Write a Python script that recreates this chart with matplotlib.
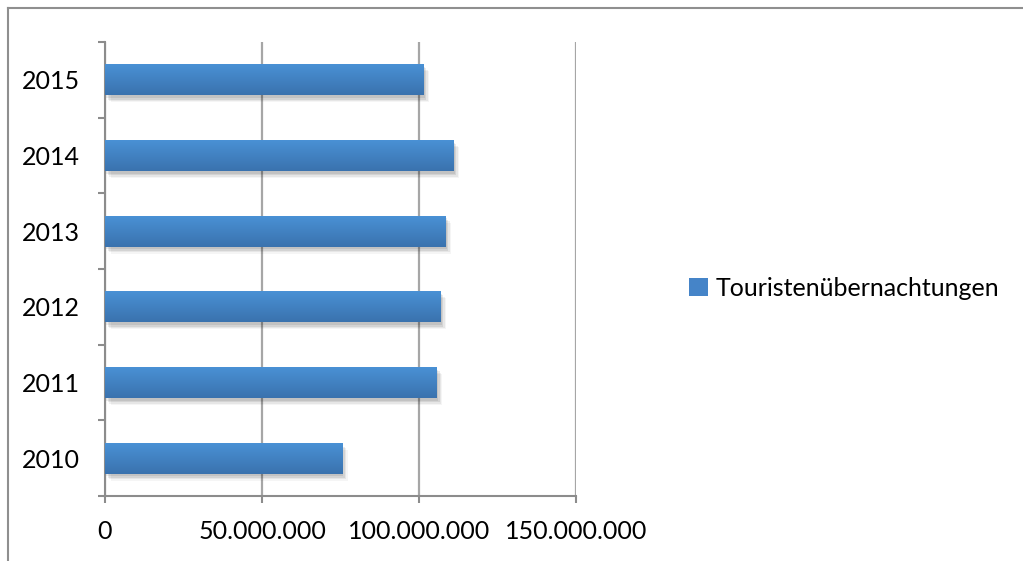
import matplotlib
matplotlib.use("Agg")
import matplotlib.pyplot as plt
import numpy as np
from matplotlib import patheffects
from matplotlib.colors import LinearSegmentedColormap
from matplotlib.ticker import FuncFormatter, FixedLocator
from matplotlib.lines import Line2D
from matplotlib.patches import Rectangle

years = ["2010", "2011", "2012", "2013", "2014", "2015"]
values = [75500000, 105700000, 106900000, 108500000, 111000000, 101400000]
series_name = "Touristenübernachtungen"
x_ticks = [0, 50000000, 100000000, 150000000]

FONT = ["Lato", "DejaVu Sans"]
plt.rcParams["font.family"] = FONT

W, H = 1023, 561
fig = plt.figure(figsize=(W / 100, H / 100), dpi=100)
ax = fig.add_axes([105 / W, 1 - 496 / H, (576 - 105) / W, (496 - 42) / H])

axis_gray = "#8c8c8c"
grid_gray = "#a6a6a6"
FS = 18

shadow = [patheffects.SimplePatchShadow(offset=(o, -o - 1), shadow_rgbFace="#000000", alpha=a)
          for o, a in [(4, 0.04), (3, 0.06), (2, 0.08), (1, 0.08)]]

y = np.arange(len(years))
bars = ax.barh(y, values, height=0.41, color="#4281c6", zorder=3,
               path_effects=shadow + [patheffects.Normal()])

cmap = LinearSegmentedColormap.from_list("g", ["#3a72ae", "#4a92d6"])
grad = np.linspace(0, 1, 64).reshape(-1, 1)
for b in bars:
    x0, y0 = b.get_x(), b.get_y()
    w, h = b.get_width(), b.get_height()
    im = ax.imshow(grad, cmap=cmap, aspect="auto", origin="lower",
                   extent=(x0, x0 + w, y0, y0 + h), zorder=4, interpolation="bicubic")
    im.set_clip_path(b)

ax.set_xlim(0, 150000000)
ax.set_ylim(-0.5, len(years) - 0.5)

ax.xaxis.set_major_locator(FixedLocator(x_ticks))
ax.xaxis.set_major_formatter(FuncFormatter(lambda v, p: f"{int(v):,}".replace(",", ".")))
ax.set_yticks(y)
ax.set_yticklabels(years)
ax.set_yticks(np.arange(-0.5, len(years), 1.0), minor=True)

ax.grid(axis="x", color=grid_gray, linewidth=1.6, zorder=1)
ax.set_axisbelow(True)

for s in ["top", "right"]:
    ax.spines[s].set_visible(False)
for s in ["left", "bottom"]:
    ax.spines[s].set_color(axis_gray)
    ax.spines[s].set_linewidth(1.5)

ax.tick_params(axis="y", which="major", length=0, pad=18, labelsize=FS, labelcolor="black")
ax.tick_params(axis="y", which="minor", length=5, width=1.5, color=axis_gray, direction="out")
ax.tick_params(axis="x", which="major", length=5, width=1.5, color=axis_gray, direction="out",
               pad=12, labelsize=FS, labelcolor="black")

# legend
handle = Rectangle((0, 0), 1, 1, facecolor="#4584c8")
fig.legend([handle], [series_name], loc="center left", bbox_to_anchor=(689 / W, 1 - 288 / H),
           frameon=False, fontsize=FS, handlelength=0.75, handleheight=0.75, handletextpad=0.3,
           borderaxespad=0, borderpad=0)

# outer frame
fig.add_artist(Line2D([7.5 / W, 7.5 / W], [0, 1 - 7.5 / H], transform=fig.transFigure, color="#8f8f8f", lw=1.5))
fig.add_artist(Line2D([7.5 / W, 1], [1 - 7.5 / H, 1 - 7.5 / H], transform=fig.transFigure, color="#8f8f8f", lw=1.5))

fig.savefig("out.png", dpi=100)
